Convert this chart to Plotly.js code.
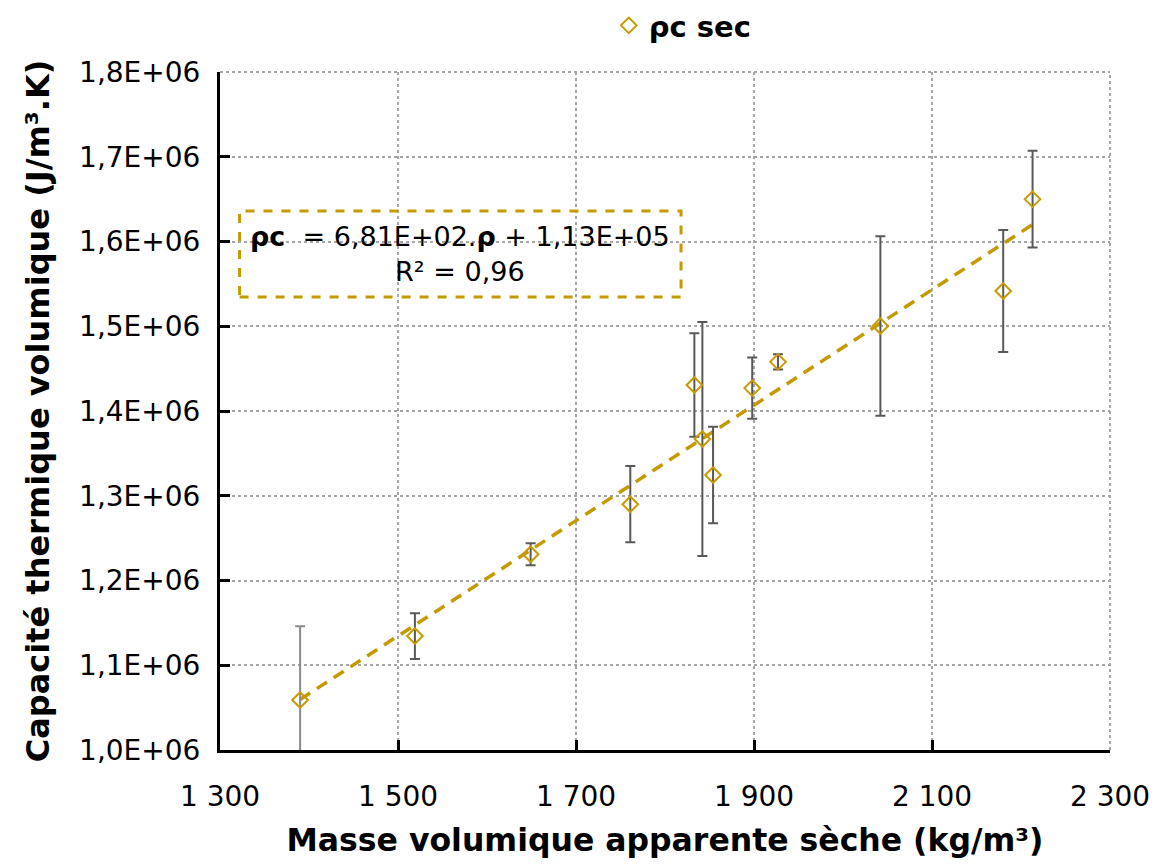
<!DOCTYPE html>
<html><head><meta charset="utf-8">
<script src="https://cdn.plot.ly/plotly-3.0.1.min.js"></script>
<style>body{margin:0;background:#fff}#chart{width:1173px;height:865px}</style>
</head><body><div id="chart"></div>
<script>
const xVals = [1390, 1519, 1649, 1761, 1833, 1842, 1854, 1898, 1927, 2042, 2180, 2213];
const yVals = [1.059e6, 1.1345e6, 1.231e6, 1.290e6, 1.4307e6, 1.367e6, 1.3245e6, 1.427e6, 1.458e6, 1.5003e6, 1.5416e6, 1.650e6];
const yErr = [0.087e6, 0.027e6, 0.013e6, 0.045e6, 0.061e6, 0.138e6, 0.057e6, 0.036e6, 0.009e6, 0.106e6, 0.072e6, 0.057e6];
const trendX = [1390, 2213];
const trendY = [1.0596e6, 1.620e6];
const xTicks = [1300, 1500, 1700, 1900, 2100, 2300];
const xTickText = ['1 300', '1 500', '1 700', '1 900', '2 100', '2 300'];
const yTicks = [1.0e6, 1.1e6, 1.2e6, 1.3e6, 1.4e6, 1.5e6, 1.6e6, 1.7e6, 1.8e6];
const yTickText = ['1,0E+06', '1,1E+06', '1,2E+06', '1,3E+06', '1,4E+06', '1,5E+06', '1,6E+06', '1,7E+06', '1,8E+06'];
const eqBox = {x0: 1322, x1: 1818, y0: 1.5345e6, y1: 1.636e6};

const gold = '#C89B00';
const font = '"DejaVu Sans", sans-serif';

const traces = [
  {
    x: trendX, y: trendY, mode: 'lines', showlegend: false, hoverinfo: 'skip',
    line: {color: '#C49A00', width: 3.5, dash: '12px,8px'}
  },
  {
    x: xVals.slice(0, 1), y: yVals.slice(0, 1), mode: 'markers', showlegend: false,
    marker: {symbol: 'diamond-open', size: 12, color: gold, line: {width: 2, color: gold}},
    error_y: {type: 'data', array: yErr.slice(0, 1), color: '#8a8a8a', thickness: 2, width: 5}
  },
  {
    x: xVals.slice(1), y: yVals.slice(1), mode: 'markers', name: '<b>ρc sec</b>',
    marker: {symbol: 'diamond-open', size: 12, color: gold, line: {width: 2, color: gold}},
    error_y: {type: 'data', array: yErr.slice(1), color: '#595959', thickness: 2, width: 5}
  }
];

const layout = {
  width: 1173, height: 865,
  margin: {l: 220, r: 63, t: 72, b: 115, autoexpand: false},
  paper_bgcolor: '#fff', plot_bgcolor: '#fff',
  font: {family: font, color: '#000', size: 28},
  showlegend: true,
  legend: {orientation: 'h', x: 0.52, xanchor: 'center', xref: 'paper', y: 1.0, yanchor: 'top', yref: 'container',
           font: {size: 29, family: font, color: '#000'}, bgcolor: 'rgba(0,0,0,0)', itemwidth: 30,
           borderwidth: 0, tracegroupgap: 0},
  xaxis: {
    range: [1300, 2300], tickvals: xTicks, ticktext: xTickText,
    showgrid: true, gridcolor: '#a6a6a6', griddash: 'dot', gridwidth: 2,
    showline: true, linecolor: '#000', linewidth: 3, zeroline: false,
    ticks: 'inside', ticklen: 10, tickwidth: 3, tickcolor: '#000',
    ticklabelstandoff: 19, automargin: false,
    tickfont: {size: 28, family: font}, mirror: false,
    title: {text: '<b>Masse volumique apparente sèche (kg/m³)</b>', font: {size: 31.5, family: font}, standoff: 18}
  },
  yaxis: {
    range: [1.0e6, 1.8e6], tickvals: yTicks, ticktext: yTickText,
    showgrid: true, gridcolor: '#a6a6a6', griddash: 'dot', gridwidth: 2,
    showline: true, linecolor: '#000', linewidth: 3, zeroline: false,
    ticks: 'inside', ticklen: 10, tickwidth: 3, tickcolor: '#000',
    ticklabelstandoff: 11, automargin: false,
    tickfont: {size: 28, family: font},
    title: {text: '<b>Capacité thermique volumique (J/m³.K)</b>', font: {size: 32, family: font}, standoff: 20}
  },
  shapes: [
    {type: 'line', xref: 'paper', yref: 'paper', x0: 1, x1: 1, y0: 0, y1: 1, line: {color: '#a6a6a6', width: 2, dash: 'dot'}},
    {type: 'line', xref: 'paper', yref: 'paper', x0: 0, x1: 1, y0: 1, y1: 1, line: {color: '#a6a6a6', width: 2, dash: 'dot'}},
    {type: 'rect', xref: 'x', yref: 'y', x0: eqBox.x0, x1: eqBox.x1, y0: eqBox.y0, y1: eqBox.y1,
     line: {color: '#C49A00', width: 3, dash: 'dash'}, fillcolor: 'rgba(255,255,255,0)'}
  ],
  annotations: [
    {xref: 'x', yref: 'y', x: (eqBox.x0 + eqBox.x1) / 2, y: (eqBox.y0 + eqBox.y1) / 2,
     text: '<b>ρc</b>  = 6,81E+02.<b>ρ</b> + 1,13E+05<br>R² = 0,96', showarrow: false,
     align: 'center', font: {size: 27, family: font, color: '#000'}}
  ]
};

Plotly.newPlot('chart', traces, layout, {displayModeBar: false, staticPlot: true});
</script></body></html>
